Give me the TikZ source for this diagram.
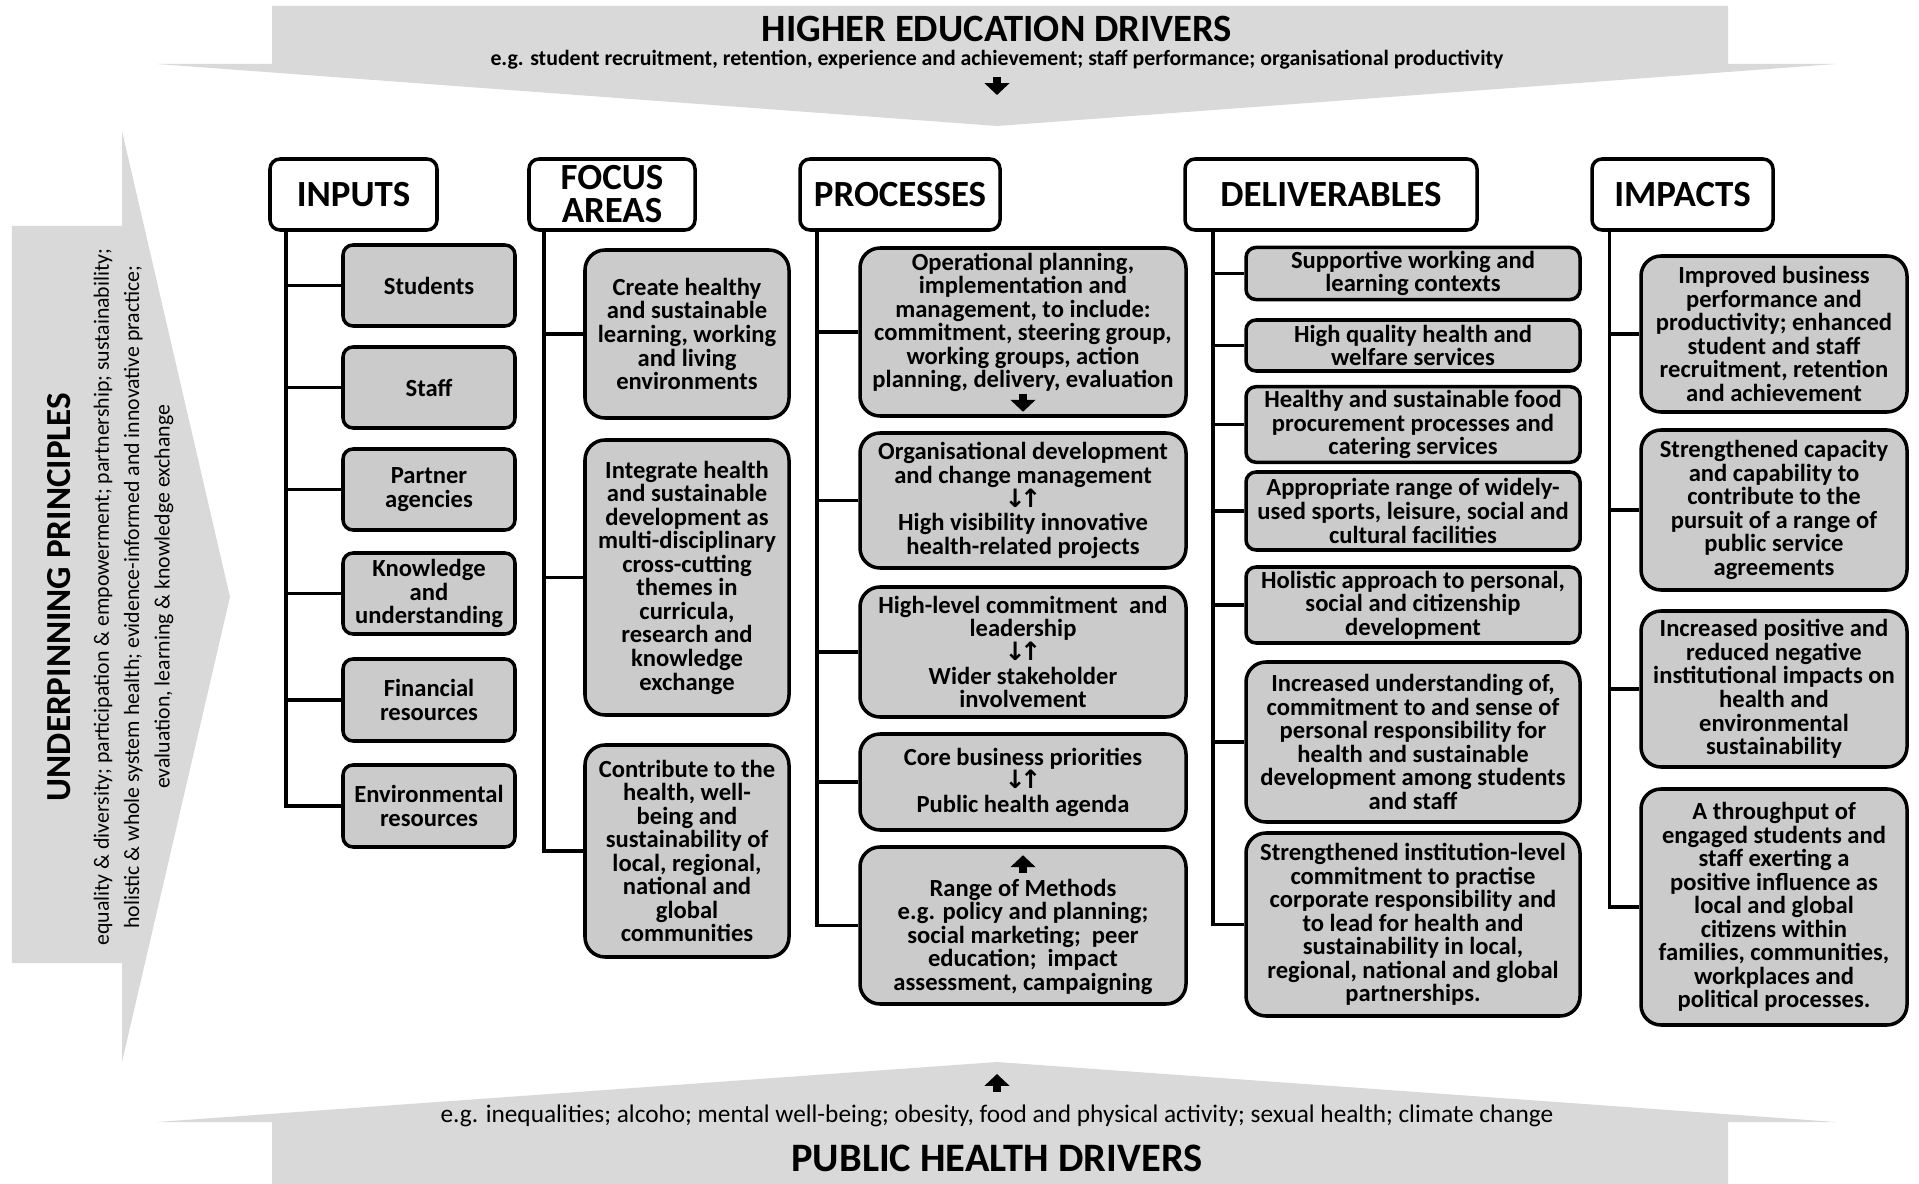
\documentclass[tikz,border=0pt]{standalone}
\usepackage{fontspec}
\setmainfont{Carlito}
\newfontfamily\arrowfont{DejaVu Sans}
\usepackage{tikz}
\usetikzlibrary{arrows.meta}

\definecolor{bandgray}{RGB}{217,217,217}
\definecolor{boxgray}{RGB}{203,203,203}
\newcommand{\boxfont}{\fontsize{7}{6.7}\selectfont\bfseries\lineskiplimit=-5pt\relax}
\newcommand{\dualarrow}{\smash{\arrowfont\bfseries\fontsize{7.2}{6.7}\selectfont ↓\kern-1.6pt↑}}

\begin{document}
\begin{tikzpicture}
%define
\tikzstyle{state_h} = [rectangle, rounded corners=0.1cm, minimum height=0.71cm, inner sep=1pt, text centered, align=center, draw=black, line width=1pt, fill=white, font=\fontsize{10.5}{9.4}\selectfont\bfseries]
\tikzstyle{state_in} = [rectangle, rounded corners=0.1cm, minimum width=1.72cm, inner sep=1pt, text centered, align=center, draw=black, line width=1pt, fill=boxgray, font=\boxfont]
\tikzstyle{state_fa} = [state_in, rounded corners=0.2cm, minimum width=2.04cm]
\tikzstyle{state_pr} = [state_in, rounded corners=0.2cm, minimum width=3.26cm]
\tikzstyle{state_de} = [state_in, minimum width=3.34cm]
\tikzstyle{state_im} = [state_in, rounded corners=0.2cm, minimum width=2.66cm]
\tikzstyle{link_b} = [line width=1pt]
\tikzstyle{arrowh} = [->, >={Triangle[length=3.4pt, width=7pt]}, line width=2.2pt]

\useasboundingbox (0,0) rectangle (19.19,-11.84);

%banner top
\fill[bandgray](2.72,-0.06) -- (17.28,-0.06) -- (17.28,-0.64) -- (18.36,-0.64) -- (9.97,-1.26) -- (1.57,-0.64) -- (2.72,-0.64) -- cycle;
%banner left
\fill[bandgray](0.12,-2.26) -- (1.22,-2.26) -- (1.22,-1.31) -- (2.30,-5.97) -- (1.22,-10.62) -- (1.22,-9.63) -- (0.12,-9.63) -- cycle;
%banner bottom
\fill[bandgray](2.72,-11.84) -- (17.28,-11.84) -- (17.28,-11.22) -- (18.36,-11.22) -- (9.97,-10.62) -- (1.57,-11.22) -- (2.72,-11.22) -- cycle;

\node[font=\fontsize{11}{13}\selectfont\bfseries](title_HE) at (9.97,-0.29){HIGHER EDUCATION DRIVERS};
\node[font=\fontsize{6.2}{7}\selectfont\bfseries](sub_HE) at (9.97,-0.60){e.g. student recruitment, retention, experience and achievement; staff performance; organisational productivity};
\coordinate (he_a) at (9.97,-0.77);
\coordinate (he_b) at (9.97,-0.95);
\node[font=\fontsize{11.5}{13}\selectfont\bfseries](title_PH) at (9.97,-11.58){PUBLIC HEALTH DRIVERS};
\node[font=\fontsize{7.2}{8}\selectfont](sub_PH) at (9.97,-11.16){e.g. inequalities; alcoho; mental well-being; obesity, food and physical activity; sexual health; climate change};
\coordinate (ph_a) at (9.97,-10.92);
\coordinate (ph_b) at (9.97,-10.74);
\node[rotate=90, font=\fontsize{10}{12}\selectfont\bfseries](title_UP) at (0.59,-5.97){UNDERPINNING PRINCIPLES};
\node[rotate=90, align=center, font=\fontsize{6.2}{8.65}\selectfont](sub_UP) at (1.335,-5.97){equality \& diversity; participation \& empowerment; partnership; sustainability;\\holistic \& whole system health; evidence-informed and innovative practice;\\evaluation, learning \& knowledge exchange};

%headers
\node[state_h, minimum width=1.67cm](head_Inputs) at (3.535,-1.945){INPUTS};
\node[state_h, minimum width=1.66cm, right of = head_Inputs, xshift = 1.585cm](head_Focus){FOCUS\\AREAS};
\node[state_h, minimum width=2.00cm, right of = head_Inputs, xshift = 4.465cm](head_Proc){PROCESSES};
\node[state_h, minimum width=2.92cm, right of = head_Inputs, xshift = 8.775cm](head_Deliv){DELIVERABLES};
\node[state_h, minimum width=1.81cm, right of = head_Inputs, xshift = 12.29cm](head_Impacts){IMPACTS};

%inputs
\node[state_in, minimum height=0.81cm, below of = head_Inputs, xshift = 0.755cm, yshift = 0.09cm](in_Students){Students};
\node[state_in, minimum height=0.81cm, below of = head_Inputs, xshift = 0.755cm, yshift = -0.93cm](in_Staff){Staff};
\node[state_in, minimum height=0.81cm, below of = head_Inputs, xshift = 0.755cm, yshift = -1.95cm](in_Partner){Partner\\agencies};
\node[state_in, minimum height=0.81cm, below of = head_Inputs, xshift = 0.755cm, yshift = -2.99cm](in_Knowledge){Knowledge\\and\\understanding};
\node[state_in, minimum height=0.82cm, below of = head_Inputs, xshift = 0.755cm, yshift = -4.055cm](in_Financial){Financial\\resources};
\node[state_in, minimum height=0.82cm, below of = head_Inputs, xshift = 0.755cm, yshift = -5.115cm](in_Environmental){Environmental\\resources};

%focus areas
\node[state_fa, minimum height=1.68cm, below of = head_Focus, xshift = 0.75cm, yshift = -0.395cm](fa_Create){Create healthy\\and sustainable\\learning, working\\and living\\environments};
\node[state_fa, minimum height=2.75cm, below of = head_Focus, xshift = 0.75cm, yshift = -2.83cm](fa_Integrate){Integrate health\\and sustainable\\development as\\multi-disciplinary\\cross-cutting\\themes in\\curricula,\\research and\\knowledge\\exchange};
\node[state_fa, minimum height=2.12cm, below of = head_Focus, xshift = 0.75cm, yshift = -5.565cm](fa_Contribute){Contribute to the\\health, well-\\being and\\sustainability of\\local, regional,\\national and\\global\\communities};

%processes
\node[state_pr, minimum height=1.68cm, below of = head_Proc, xshift = 1.23cm, yshift = -0.375cm](pr_Operational){Operational planning,\\implementation and\\management, to include:\\commitment, steering group,\\working groups, action\\planning, delivery, evaluation\\\vphantom{A}};
\node[state_pr, minimum height=1.35cm, below of = head_Proc, xshift = 1.23cm, yshift = -2.06cm](pr_Organisational){Organisational development\\and change management\\\dualarrow\\High visibility innovative\\health-related projects};
\node[state_pr, minimum height=1.30cm, below of = head_Proc, xshift = 1.23cm, yshift = -3.575cm](pr_Leadership){High-level commitment \ and\\leadership\\\dualarrow\\Wider stakeholder\\involvement};
\node[state_pr, minimum height=0.96cm, below of = head_Proc, xshift = 1.23cm, yshift = -4.875cm](pr_Core){Core business priorities\\\dualarrow\\Public health agenda};
\node[state_pr, minimum height=1.57cm, below of = head_Proc, xshift = 1.23cm, yshift = -6.31cm](pr_Methods){\vphantom{A}\\Range of Methods\\e.g. policy and planning;\\social marketing; \ peer\\education; \ impact\\assessment, campaigning};

%deliverables
\node[state_de, minimum height=0.49cm, below of = head_Deliv, xshift = 0.82cm, yshift = 0.21cm](de_Supportive){Supportive working and\\learning contexts};
\node[state_de, minimum height=0.51cm, below of = head_Deliv, xshift = 0.82cm, yshift = -0.51cm](de_Welfare){High quality health and\\welfare services};
\node[state_de, minimum height=0.75cm, below of = head_Deliv, xshift = 0.82cm, yshift = -1.30cm](de_Food){Healthy and sustainable food\\procurement processes and\\catering services};
\node[state_de, minimum height=0.78cm, below of = head_Deliv, xshift = 0.82cm, yshift = -2.165cm](de_Sports){Appropriate range of widely-\\used sports, leisure, social and\\cultural facilities};
\node[state_de, minimum height=0.76cm, below of = head_Deliv, xshift = 0.82cm, yshift = -3.105cm](de_Holistic){Holistic approach to personal,\\social and citizenship\\development};
\node[state_de, rounded corners=0.2cm, minimum height=1.60cm, below of = head_Deliv, xshift = 0.82cm, yshift = -4.475cm](de_Understanding){Increased understanding of,\\commitment to and sense of\\personal responsibility for\\health and sustainable\\development among students\\and staff};
\node[state_de, rounded corners=0.2cm, minimum height=1.83cm, below of = head_Deliv, xshift = 0.82cm, yshift = -6.30cm](de_Institution){Strengthened institution-level\\commitment to practise\\corporate responsibility and\\to lead for health and\\sustainability in local,\\regional, national and global\\partnerships.};

%impacts
\node[state_im, minimum height=1.56cm, below of = head_Impacts, xshift = 0.915cm, yshift = -0.395cm](im_Business){Improved business\\performance and\\productivity; enhanced\\student and staff\\recruitment, retention\\and achievement};
\node[state_im, minimum height=1.60cm, below of = head_Impacts, xshift = 0.915cm, yshift = -2.155cm](im_Capacity){Strengthened capacity\\and capability to\\contribute to the\\pursuit of a range of\\public service\\agreements};
\node[state_im, minimum height=1.56cm, below of = head_Impacts, xshift = 0.915cm, yshift = -3.945cm](im_Sustain){Increased positive and\\reduced negative\\institutional impacts on\\health and\\environmental\\sustainability};
\node[state_im, minimum height=2.36cm, below of = head_Impacts, xshift = 0.915cm, yshift = -6.125cm](im_Citizens){A throughput of\\engaged students and\\staff exerting a\\positive influence as\\local and global\\citizens within\\families, communities,\\workplaces and\\political processes.};

%trunks
\coordinate (trunk_In) at ([xshift=0.18cm]head_Inputs.south west);
\coordinate (trunk_Fa) at ([xshift=0.17cm]head_Focus.south west);
\coordinate (trunk_Pr) at ([xshift=0.19cm]head_Proc.south west);
\coordinate (trunk_De) at ([xshift=0.30cm]head_Deliv.south west);
\coordinate (trunk_Im) at ([xshift=0.19cm]head_Impacts.south west);

%line
\draw[link_b](trunk_In) |- (in_Environmental.west); %Inputs
\draw[link_b](in_Students.west) -- (in_Students.west -| trunk_In);
\draw[link_b](in_Staff.west) -- (in_Staff.west -| trunk_In);
\draw[link_b](in_Partner.west) -- (in_Partner.west -| trunk_In);
\draw[link_b](in_Knowledge.west) -- (in_Knowledge.west -| trunk_In);
\draw[link_b](in_Financial.west) -- (in_Financial.west -| trunk_In);
\draw[link_b](trunk_Fa) |- (fa_Contribute.west); %Focus areas
\draw[link_b](fa_Create.west) -- (fa_Create.west -| trunk_Fa);
\draw[link_b](fa_Integrate.west) -- (fa_Integrate.west -| trunk_Fa);
\draw[link_b](trunk_Pr) |- (pr_Methods.west); %Processes
\draw[link_b](pr_Operational.west) -- (pr_Operational.west -| trunk_Pr);
\draw[link_b](pr_Organisational.west) -- (pr_Organisational.west -| trunk_Pr);
\draw[link_b](pr_Leadership.west) -- (pr_Leadership.west -| trunk_Pr);
\draw[link_b](pr_Core.west) -- (pr_Core.west -| trunk_Pr);
\draw[link_b](trunk_De) |- (de_Institution.west); %Deliverables
\draw[link_b](de_Supportive.west) -- (de_Supportive.west -| trunk_De);
\draw[link_b](de_Welfare.west) -- (de_Welfare.west -| trunk_De);
\draw[link_b](de_Food.west) -- (de_Food.west -| trunk_De);
\draw[link_b](de_Sports.west) -- (de_Sports.west -| trunk_De);
\draw[link_b](de_Holistic.west) -- (de_Holistic.west -| trunk_De);
\draw[link_b](de_Understanding.west) -- (de_Understanding.west -| trunk_De);
\draw[link_b](trunk_Im) |- (im_Citizens.west); %Impacts
\draw[link_b](im_Business.west) -- (im_Business.west -| trunk_Im);
\draw[link_b](im_Capacity.west) -- (im_Capacity.west -| trunk_Im);
\draw[link_b](im_Sustain.west) -- (im_Sustain.west -| trunk_Im);

%arrows
\draw[arrowh](he_a) -- (he_b); %HE drivers down
\draw[arrowh](ph_a) -- (ph_b); %PH drivers up
\draw[arrowh]([yshift=0.24cm]pr_Operational.south) -- ([yshift=0.06cm]pr_Operational.south);
\draw[arrowh]([yshift=-0.28cm]pr_Methods.north) -- ([yshift=-0.10cm]pr_Methods.north);

\end{tikzpicture}
\end{document}
